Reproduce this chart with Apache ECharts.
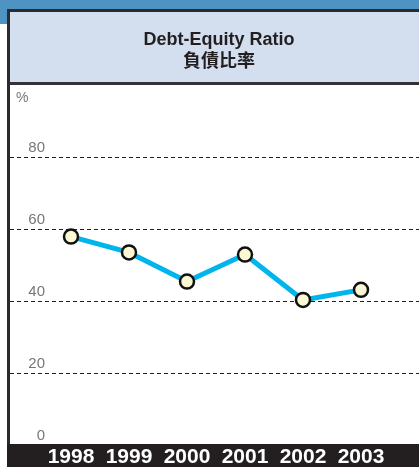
<!DOCTYPE html>
<html>
<head>
<meta charset="utf-8">
<script src="https://cdn.jsdelivr.net/npm/echarts@6/dist/echarts.min.js"></script>
<style>
  html, body { margin: 0; padding: 0; background: #fff; }
  #chart { width: 419px; height: 467px; }
</style>
</head>
<body>
<div id="chart"></div>
<script>
// data
const years = ['1998', '1999', '2000', '2001', '2002', '2003']
const debtEquity = [57.9, 53.5, 45.4, 52.9, 40.3, 43.1]
const yMin = 0
const yMax = 100
const yStep = 20

const chart = echarts.init(document.getElementById('chart'))

const dark = '#231f20'
const labelFont = "'Liberation Sans', 'Noto Sans CJK TC', sans-serif"

const option = {
  animation: false,
  backgroundColor: '#fff',
  graphic: [
    // blue band across the top
    { type: 'rect', z: 0, shape: { x: 0, y: 0, width: 419, height: 10 }, style: { fill: '#4f92c4' } },
    { type: 'rect', z: 0, shape: { x: 0, y: 0, width: 8, height: 24 }, style: { fill: '#4f92c4' } },
    // title box
    { type: 'rect', z: 0, shape: { x: 8, y: 10, width: 411, height: 74 }, style: { fill: '#d3deef' } },
    { type: 'rect', z: 0, shape: { x: 7, y: 9, width: 412, height: 3 }, style: { fill: '#2b2a2e' } },
    { type: 'rect', z: 0, shape: { x: 7, y: 82, width: 412, height: 3 }, style: { fill: '#333336' } },
    // left border
    { type: 'rect', z: 0, shape: { x: 7, y: 9, width: 3, height: 458 }, style: { fill: '#2b2a2e' } },
    // bottom band under the years
    { type: 'rect', z: 0, shape: { x: 7, y: 444, width: 412, height: 23 }, style: { fill: dark } }
  ],
  title: {
    text: 'Debt-Equity Ratio\n負債比率',
    left: 214,
    top: 24,
    textAlign: 'center',
    textStyle: {
      fontFamily: labelFont,
      fontSize: 18,
      fontWeight: 'bold',
      lineHeight: 22,
      color: dark
    }
  },
  grid: [
    { left: 42, right: 29, top: 85, bottom: 22, outerBoundsMode: 'none' },
    { left: 10, right: 0, top: 85, bottom: 22, outerBoundsMode: 'none' }
  ],
  xAxis: [{
    gridIndex: 0,
    type: 'category',
    data: years,
    boundaryGap: true,
    axisLine: { show: false },
    axisTick: { show: false },
    axisLabel: {
      interval: 0,
      hideOverlap: false,
      color: '#fff',
      fontFamily: labelFont,
      fontWeight: 'bold',
      fontSize: 21,
      lineHeight: 22,
      margin: 1
    },
    z: 5
  }, {
    gridIndex: 1,
    type: 'value',
    show: false
  }],
  yAxis: [{
    gridIndex: 0,
    type: 'value',
    min: yMin,
    max: yMax,
    interval: yStep,
    show: false
  }, {
    gridIndex: 1,
    type: 'value',
    min: yMin,
    max: yMax,
    interval: yStep,
    name: '%',
    nameLocation: 'end',
    nameGap: -13,
    nameTextStyle: {
      align: 'left',
      verticalAlign: 'middle',
      padding: [0, 0, 0, 6],
      color: '#777',
      fontFamily: labelFont,
      fontSize: 14
    },
    axisLine: { show: false },
    axisTick: { show: false },
    axisLabel: {
      align: 'right',
      verticalAlign: 'bottom',
      margin: -35,
      padding: [0, 0, 2, 0],
      color: '#777',
      fontFamily: labelFont,
      fontSize: 15,
      formatter: function (v) { return v === yMax ? '' : String(v) }
    },
    splitLine: {
      show: true,
      showMinLine: false,
      showMaxLine: false,
      lineStyle: { color: '#222', width: 1, type: [4, 3] }
    }
  }],
  series: [{
    type: 'line',
    xAxisIndex: 0,
    yAxisIndex: 0,
    data: debtEquity,
    symbol: 'circle',
    symbolSize: 14,
    lineStyle: { color: '#00b5ec', width: 5 },
    itemStyle: { color: '#fdf8d4', borderColor: '#111', borderWidth: 2.5 },
    z: 3
  }]
}

chart.setOption(option)
</script>
</body>
</html>
